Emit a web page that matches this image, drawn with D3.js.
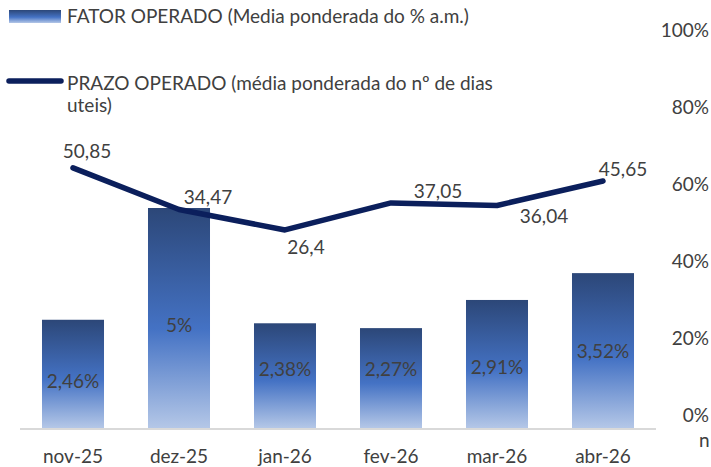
<!DOCTYPE html>
<html>
<head>
<meta charset="utf-8">
<script src="https://cdn.jsdelivr.net/npm/d3@7"></script>
<style>
  html, body { margin: 0; padding: 0; background: #fff; }
  svg { display: block; }
  text { font-family: Lato, "Open Sans", sans-serif; fill: #404040; }
</style>
</head>
<body>
<svg id="chart" width="711" height="467"></svg>
<script>
const categories = ["nov-25", "dez-25", "jan-26", "fev-26", "mar-26", "abr-26"];
const fatorValues = [2.46, 5, 2.38, 2.27, 2.91, 3.52];
const prazoValues = [50.85, 34.47, 26.4, 37.05, 36.04, 45.65];
const rightTicks = [0, 0.2, 0.4, 0.6, 0.8, 1];
const legendFator = "FATOR OPERADO (Media ponderada do % a.m.)";
const legendPrazo = ["PRAZO OPERADO (média ponderada do nº de dias", "uteis)"];
// label offsets (style only)
const barLabelDy = [14, 14, 0, -2.5, 10, 7.5];
const lineLabelOff = [[14, -10], [29, -5], [21, 24], [47, -5], [47, 18], [20, -5]];

const svg = d3.select("#chart");
const FS = 19;

const x = d3.scaleBand().domain(categories).range([20, 656]).paddingInner(0.415).paddingOuter(0.2075);
const yBar = d3.scaleLinear().domain([0, 8]).range([428, 76]);
const yLine = d3.scaleLinear().domain([0, 100]).range([297, 43]);
const yRight = d3.scaleLinear().domain([0, 1]).range([415, 30]);

const defs = svg.append("defs");
const grad = defs.append("linearGradient").attr("id", "barGrad")
  .attr("x1", 0).attr("y1", 0).attr("x2", 0).attr("y2", 1);
grad.append("stop").attr("offset", "0%").attr("stop-color", "#2c4778");
grad.append("stop").attr("offset", "55%").attr("stop-color", "#4472c4");
grad.append("stop").attr("offset", "100%").attr("stop-color", "#b4c7e7");

// axis baseline
svg.append("line").attr("x1", 20).attr("x2", 656)
  .attr("y1", 429).attr("y2", 429)
  .attr("stroke", "#d9d9d9").attr("stroke-width", 2);

// bars
svg.append("g").selectAll("rect").data(fatorValues).join("rect")
  .attr("x", (d, i) => x(categories[i]))
  .attr("width", x.bandwidth())
  .attr("y", d => yBar(d))
  .attr("height", d => yBar(0) - yBar(d))
  .attr("fill", "url(#barGrad)");

const fmtFator = v => String(v).replace(".", ",") + "%";
const fmtPrazo = v => String(v).replace(".", ",");

// bar labels
svg.append("g").selectAll("text").data(fatorValues).join("text")
  .attr("x", (d, i) => x(categories[i]) + x.bandwidth() / 2)
  .attr("y", (d, i) => (yBar(d) + yBar(0)) / 2 + barLabelDy[i])
  .attr("text-anchor", "middle")
  .attr("font-size", FS)
  .text(fmtFator);

// line
const line = d3.line()
  .x((d, i) => x(categories[i]) + x.bandwidth() / 2)
  .y(d => yLine(d));
svg.append("path").datum(prazoValues)
  .attr("d", line)
  .attr("fill", "none")
  .attr("stroke", "#0b1f5c")
  .attr("stroke-width", 5.5)
  .attr("stroke-linecap", "round")
  .attr("stroke-linejoin", "round");

// line labels
svg.append("g").selectAll("text").data(prazoValues).join("text")
  .attr("x", (d, i) => x(categories[i]) + x.bandwidth() / 2 + lineLabelOff[i][0])
  .attr("y", (d, i) => yLine(d) + lineLabelOff[i][1])
  .attr("text-anchor", "middle")
  .attr("font-size", FS)
  .text(fmtPrazo);

// x axis labels
const xAxis = svg.append("g").attr("transform", "translate(0,429)")
  .call(d3.axisBottom(x).tickSize(0).tickPadding(0));
xAxis.select(".domain").remove();
xAxis.selectAll("text")
  .attr("y", 34).attr("dy", null)
  .attr("font-size", FS)
  .style("font-family", "Lato, sans-serif")
  .attr("fill", "#404040");

// right axis
const rAxis = svg.append("g").attr("transform", "translate(709,0)")
  .call(d3.axisRight(yRight).tickValues(rightTicks).tickFormat(d3.format(".0%")).tickSize(0).tickPadding(0));
rAxis.select(".domain").remove();
rAxis.selectAll("text")
  .attr("x", 0).attr("text-anchor", "end")
  .attr("font-size", FS)
  .style("font-family", "Lato, sans-serif")
  .attr("fill", "#404040");

// stray label at bottom right
svg.append("text").attr("x", 699).attr("y", 447).attr("font-size", FS).text("n");

// legend
svg.append("rect").attr("x", 9).attr("y", 10).attr("width", 52).attr("height", 13).attr("fill", "url(#barGrad)");
svg.append("text").attr("x", 67).attr("y", 23).attr("font-size", FS).text(legendFator);
svg.append("line").attr("x1", 9).attr("x2", 61).attr("y1", 81).attr("y2", 81)
  .attr("stroke", "#0b1f5c").attr("stroke-width", 5.5).attr("stroke-linecap", "round");
svg.append("text").attr("x", 67).attr("y", 90).attr("font-size", FS).text(legendPrazo[0]);
svg.append("text").attr("x", 67).attr("y", 112).attr("font-size", FS).text(legendPrazo[1]);
</script>
</body>
</html>
